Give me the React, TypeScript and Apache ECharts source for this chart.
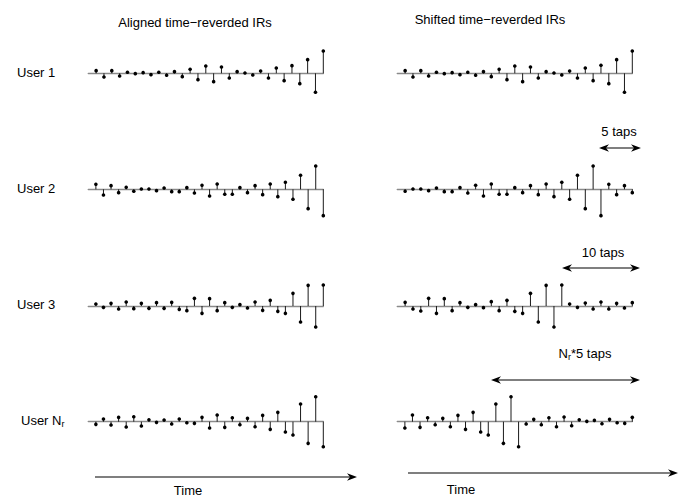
import React, { useEffect, useRef } from "react";
import * as echarts from "echarts";

// Tap amplitudes (arbitrary units), oldest tap first.
const user1Aligned = [8, -11, 8, -8, 3, -1, 2, -4, 3, -6, 5, -10, 12, -19, 22, -25, 19, -14, 5, 1, -5, 7, -14, 16, -22, 23, -31, 41, -57, 67];
const user1Shifted = [8, -11, 8, -8, 3, -1, 2, -4, 3, -6, 5, -10, 12, -19, 22, -25, 19, -14, 5, 1, -5, 7, -14, 16, -22, 24, -31, 41, -57, 67];
const user2Aligned = [15, -17, 11, -10, 6, -6, 1, 1, -4, 4, -7, -7, 5, -11, 12, -20, 16, -15, -15, 5, -10, 11, -16, 16, -22, 21, -30, 42, -58, 70, -79];
const user2Shifted = [-6, 1, 1, -4, 4, -7, -7, 5, -11, 12, -20, 16, -15, -15, 5, -10, 11, -16, 16, -22, 21, -30, 42, -58, 70, -79, 15, -16, 11, -10];
const user3Aligned = [6, -4, 8, -9, 12, -8, 8, -7, 10, -7, 11, -10, -14, 23, -22, 22, -14, 10, -4, 4, -6, 12, -13, 17, -16, -22, 38, -48, 62, -63, 63];
const user3Shifted = [11, -9, -15, 23, -22, 22, -14, 10, -4, 4, -5, 13, -14, 17, -16, -22, 38, -48, 62, -63, 63, 6, -4, 9, -9, 12, -9, 8, -6, 10];
const userNAligned = [-8, 8, -10, 13, -16, 15, -13, 6, -2, 5, -7, 8, -3, -5, 13, -19, 20, -17, 12, -9, 10, -15, 19, -23, 28, -31, -40, 53, -65, 75, -75];
const userNShifted = [-19, 20, -17, 12, -9, 10, -15, 19, -23, 28, -31, -40, 53, -65, 75, -75, -7, 7, -9, 12, -15, 14, -12, 6, 1, 4, -6, 7, -3, -5, 13];

const columnTitles = ["Aligned time\u2212reverded IRs", "Shifted time\u2212reverded IRs"];
const userLabels = ["User 1", "User 2", "User 3", "User N{sub|r}"];
const shiftLabels = ["5 taps", "10 taps", "N{sub|r}*5 taps"];
const axisLabel = "Time";

const panels = [
  [user1Aligned, user1Shifted],
  [user2Aligned, user2Shifted],
  [user3Aligned, user3Shifted],
  [userNAligned, userNShifted],
];

const FONT = "'Liberation Sans', Arial, Helvetica, sans-serif";
const ROW_BASE = [73.3, 189.3, 306, 421.7];
const COL_LEFT = [88.3, 397.3];
const PANEL_W = 235;
const HALF_H = 30;
const Y_RANGE = 90;

function arrowHead(x: number, y: number, dir: number) {
  const len = 10;
  const hw = 3.8;
  return {
    type: "polygon",
    shape: {
      points: [
        [x, y],
        [x - dir * len, y - hw],
        [x - dir * len * 0.7, y],
        [x - dir * len, y + hw],
      ],
    },
    style: { fill: "#000" },
    silent: true,
  };
}

function doubleArrow(x1: number, x2: number, y: number) {
  return [
    { type: "line", shape: { x1: x1 + 4, y1: y, x2: x2 - 4, y2: y }, style: { stroke: "#000", lineWidth: 1.2 } },
    arrowHead(x1, y, -1),
    arrowHead(x2, y, 1),
  ];
}

function singleArrow(x1: number, x2: number, y: number) {
  return [
    { type: "line", shape: { x1, y1: y, x2: x2 - 4, y2: y }, style: { stroke: "#000", lineWidth: 1.2 } },
    arrowHead(x2, y, 1),
  ];
}

function text(t: string, x: number, y: number, align = "center") {
  return {
    type: "text",
    x,
    y,
    style: {
      text: t,
      x: 0,
      y: 0,
      align,
      verticalAlign: "middle",
      font: `13px ${FONT}`,
      fill: "#000",
      rich: {
        sub: { fontSize: 9, fontFamily: FONT, verticalAlign: "bottom", padding: [8, 0, 0, 0], fill: "#000" },
      },
    },
    silent: true,
  };
}

export default function App() {
  const ref = useRef<HTMLDivElement>(null);
  useEffect(() => {
    if (!ref.current) return;
    const chart = echarts.init(ref.current, undefined, { renderer: "svg" });
    const grid: any[] = [];
    const xAxis: any[] = [];
    const yAxis: any[] = [];
    const series: any[] = [];
    panels.forEach((row, r) => {
      row.forEach((vals, c) => {
        const i = grid.length;
        grid.push({ left: COL_LEFT[c], top: ROW_BASE[r] - HALF_H, width: PANEL_W, height: HALF_H * 2 });
        xAxis.push({
          type: "value",
          gridIndex: i,
          min: 0,
          max: vals.length,
          axisLine: { show: true, onZero: true, lineStyle: { color: "#8a8a8a", width: 1.4 } },
          axisTick: { show: false },
          axisLabel: { show: false },
          splitLine: { show: false },
        });
        yAxis.push({
          type: "value",
          gridIndex: i,
          min: -Y_RANGE,
          max: Y_RANGE,
          show: false,
          splitLine: { show: false },
        });
        series.push({
          type: "custom",
          xAxisIndex: i,
          yAxisIndex: i,
          silent: true,
          data: vals.map((v, k) => [k + 1, v]),
          renderItem: (_p: any, api: any) => {
            const x = api.value(0);
            const y = api.value(1);
            const b = api.coord([x, 0]);
            const t = api.coord([x, y]);
            return {
              type: "group",
              children: [
                { type: "line", shape: { x1: b[0], y1: b[1], x2: t[0], y2: t[1] }, style: { stroke: "#1a1a1a", lineWidth: 1 } },
                { type: "circle", shape: { cx: t[0], cy: t[1], r: 1.8 }, style: { fill: "#000" } },
              ],
            };
          },
        });
      });
    });

    const graphic: any[] = [
      text(columnTitles[0], 195, 22),
      text(columnTitles[1], 490, 19),
      text(userLabels[0], 17, 72, "left"),
      text(userLabels[1], 17, 188, "left"),
      text(userLabels[2], 17, 304, "left"),
      text(userLabels[3], 21, 420, "left"),
      text(shiftLabels[0], 619, 131),
      text(shiftLabels[1], 603, 252),
      text(shiftLabels[2], 585, 353),
      ...doubleArrow(599, 641, 148),
      ...doubleArrow(562, 640, 268),
      ...doubleArrow(491, 640, 380),
      ...singleArrow(95, 357, 477),
      ...singleArrow(408, 678, 473),
      text(axisLabel, 188, 490),
      text(axisLabel, 461, 489),
    ];

    chart.setOption({
      animation: false,
      backgroundColor: "#fff",
      grid,
      xAxis,
      yAxis,
      series,
      graphic,
    });
    return () => chart.dispose();
  }, []);
  return <div ref={ref} style={{ position: "absolute", left: 0, top: 0, width: 678, height: 498 }} />;
}
